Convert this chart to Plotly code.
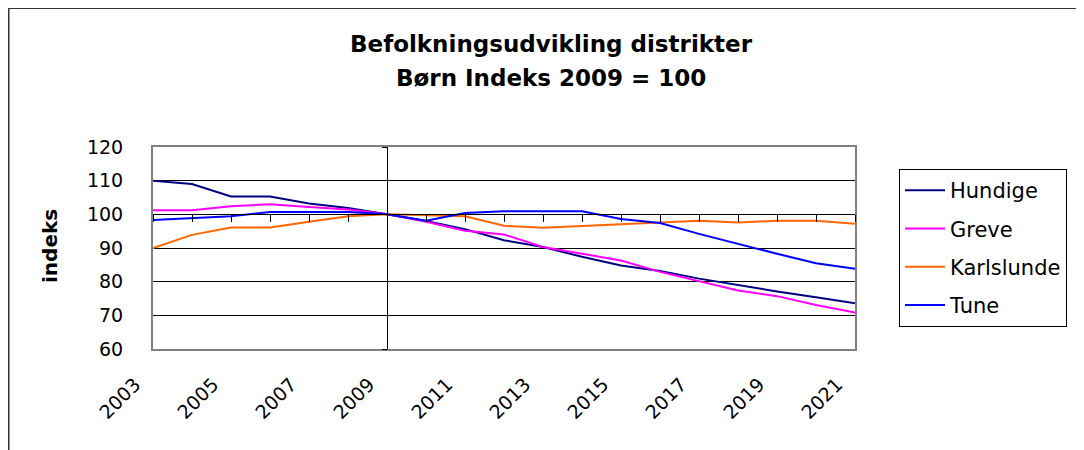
import plotly.graph_objects as go

years = list(range(2003, 2022))
tick_years = list(range(2003, 2022, 2))
tick_labels = [str(y) for y in tick_years]

hundige = [110.0, 109.0, 105.3, 105.3, 103.2, 101.9, 100.0, 98.0, 95.6, 92.3,
           90.3, 87.4, 84.8, 83.2, 80.9, 78.9, 77.1, 75.4, 73.6]
greve = [101.2, 101.2, 102.4, 103.0, 102.2, 101.4, 100.0, 97.8, 95.1, 94.0,
         90.3, 88.3, 86.3, 82.9, 80.2, 77.4, 75.7, 73.1, 70.8]
karlslunde = [90.0, 93.9, 96.1, 96.1, 97.8, 99.4, 100.0, 99.7, 99.4, 96.6,
              96.0, 96.5, 97.1, 97.5, 98.1, 97.6, 98.1, 98.1, 97.2]
tune = [98.3, 98.9, 99.4, 100.7, 100.7, 100.7, 100.0, 98.1, 100.4, 100.9,
        100.9, 100.9, 98.6, 97.4, 94.2, 91.2, 88.3, 85.5, 83.8]

title_lines = ["Befolkningsudvikling distrikter", "Børn Indeks 2009 = 100"]

series = [
    ("Hundige", hundige, "#000080"),
    ("Greve", greve, "#FF00FF"),
    ("Karlslunde", karlslunde, "#FF6600"),
    ("Tune", tune, "#0000FF"),
]

FONT = "DejaVu Sans, Liberation Sans, Arial, sans-serif"

fig = go.Figure()
for i, (name, vals, col) in enumerate(series):
    fig.add_trace(go.Scatter(
        x=years, y=vals, name=name, mode="lines",
        line=dict(color=col, width=2), legendgroup=f"g{i}",
    ))

# invisible trace to host the crossing axes (x at y=100, y at x=2009)
fig.add_trace(go.Scatter(
    x=years, y=hundige, xaxis="x2", yaxis="y2", mode="lines",
    line=dict(width=0), opacity=0, showlegend=False, hoverinfo="skip",
))

OFF = 8  # page body margin
W, H = 1084 - OFF, 450 - OFF
L, R, T = 153 - OFF, 229, 147 - OFF
pw = W - L - R
ph = 202
B = H - T - ph


def px_x(page_x):
    return (page_x - OFF - L) / pw


def px_y(page_y):
    return (T + ph - (page_y - OFF)) / ph


annotations = [dict(
    text="<b>indeks</b>", textangle=-90,
    xref="paper", yref="paper",
    x=px_x(50), y=px_y(246),
    xanchor="center", yanchor="middle", showarrow=False,
    font=dict(family=FONT, size=20, color="black"),
)]
for line, cy in zip(title_lines, [44, 78]):
    annotations.append(dict(
        text=f"<b>{line}</b>", xref="paper", yref="paper",
        x=px_x(551), y=px_y(cy), xanchor="center", yanchor="middle",
        showarrow=False, font=dict(family=FONT, size=23, color="black"),
    ))

fig.update_layout(
    width=W, height=H,
    margin=dict(l=L, r=R, t=T, b=B, autoexpand=False),
    paper_bgcolor="white", plot_bgcolor="white",
    font=dict(family=FONT, color="black", size=19),
    xaxis=dict(
        range=[2003, 2021], tickvals=tick_years, ticktext=tick_labels,
        tickangle=-45, showgrid=False, zeroline=False,
        showline=True, mirror=True, linecolor="#808080", linewidth=2,
        ticks="", ticklabelstandoff=15, ticklabelshift=-18,
        tickfont=dict(family=FONT, size=19),
    ),
    yaxis=dict(
        range=[60, 120], dtick=10, tick0=60,
        showgrid=True, gridcolor="black", gridwidth=1, zeroline=False,
        showline=True, mirror=True, linecolor="#808080", linewidth=2,
        ticks="", ticklabelstandoff=24,
        tickfont=dict(family=FONT, size=19),
    ),
    xaxis2=dict(
        overlaying="x", anchor="free", position=(100 - 60) / 60,
        range=[2003, 2021], dtick=1, tick0=2003,
        ticks="outside", ticklen=7, tickcolor="black", tickwidth=1,
        showline=True, linecolor="black", linewidth=1,
        showticklabels=False, showgrid=False, zeroline=False,
    ),
    yaxis2=dict(
        overlaying="y", anchor="free", position=(2009 - 2003) / 18,
        range=[60, 120], dtick=10, tick0=60,
        ticks="outside", ticklen=5, tickcolor="black", tickwidth=1,
        showline=True, linecolor="black", linewidth=1,
        showticklabels=False, showgrid=False, zeroline=False,
    ),
    legend=dict(
        x=px_x(899), xanchor="left",
        y=px_y(169), yanchor="top",
        bordercolor="black", borderwidth=1, bgcolor="white",
        font=dict(family=FONT, size=21),
        tracegroupgap=8, itemwidth=40,
        entrywidth=140, entrywidthmode="pixels",
    ),
    showlegend=True,
    annotations=annotations,
    shapes=[dict(
        type="rect", xref="paper", yref="paper",
        x0=px_x(8.5), x1=px_x(1110),
        y0=px_y(480), y1=px_y(8),
        line=dict(color="#333333", width=2), fillcolor="rgba(0,0,0,0)",
        layer="below",
    )],
)

fig.write_html("out.html")
